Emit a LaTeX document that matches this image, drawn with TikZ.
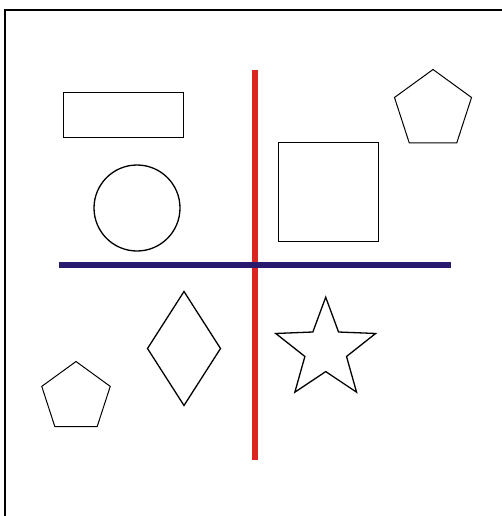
\documentclass[tikz,border=0pt]{standalone}
\usepackage{tikz}
\usetikzlibrary{positioning,shapes.geometric}

\definecolor{axisred}{RGB}{218,37,32}
\definecolor{axisblue}{RGB}{42,26,110}

\begin{document}
\begin{tikzpicture}[x=1pt, y=-1pt,
	outline/.style={draw, line width=1.3pt, inner sep=0pt, outer sep=0pt},
	pent/.style={outline, regular polygon, regular polygon sides=5, line width=1pt}]
	\useasboundingbox (0,0) rectangle (502,516);
	\clip (0,0) rectangle (502,516);
	\draw [line width=2pt] (4.5,10) rectangle (540,560);
	
	\node (rect) at (123.5,115) [outline, minimum width=120pt, minimum height=45pt]{};
	\node (disc) at (137,208) [outline, circle, minimum size=86pt]{};
	\node (square) at (328.5,192) [outline, minimum width=100pt, minimum height=99pt]{};
	\node (pentA) at (433,110) [pent, minimum size=81pt]{};
	\node (pentB) at (76,397.5) [pent, minimum size=72pt]{};
	\node (rhomb) at (184,348.5) [outline, diamond, minimum width=73pt, minimum height=114pt]{};
	\node (star) at (325.7,349.7) [outline, star, star points=5, star point ratio=2.4, minimum size=105pt]{};
	
	\coordinate (vtop) at (255,70);
	\coordinate (vbot) at (255,460);
	\coordinate (hleft) at (59,265);
	\coordinate (hright) at (451,265);
	\draw [axisred, line width=6pt] (vtop) -- (vbot);
	\draw [axisblue, line width=6pt] (hleft) -- (hright);
\end{tikzpicture}
\end{document}
